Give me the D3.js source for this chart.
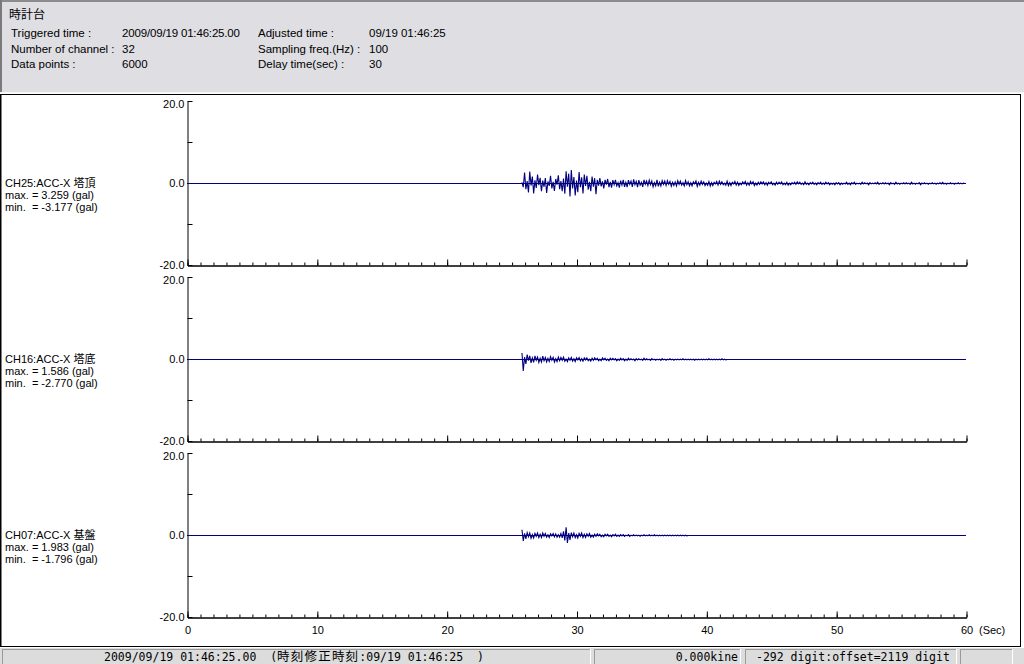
<!DOCTYPE html>
<html><head><meta charset="utf-8">
<script src="https://cdn.jsdelivr.net/npm/d3@7"></script>
<style>
body{margin:0;background:#fff;}
svg{display:block;}
text{white-space:pre;}
</style></head>
<body><svg id="c" width="1024" height="664"></svg>
<script>
// ---------- data ----------
const title = "時計台";
const headerLeftLabels = ["Triggered time :", "Number of channel :", "Data points :"];
const headerLeftValues = ["2009/09/19 01:46:25.00", "32", "6000"];
const headerRightLabels = ["Adjusted time :", "Sampling freq.(Hz) :", "Delay time(sec) :"];
const headerRightValues = ["09/19 01:46:25", "100", "30"];

const channelNames = ["CH25:ACC-X 塔頂", "CH16:ACC-X 塔底", "CH07:ACC-X 基盤"];
const maxLabels = ["max. = 3.259 (gal)", "max. = 1.586 (gal)", "max. = 1.983 (gal)"];
const minLabels = ["min.  = -3.177 (gal)", "min.  = -2.770 (gal)", "min.  = -1.796 (gal)"];

const yTicks = [20, 10, 0, -10, -20];
const yTickLabels = {"20": "20.0", "0": "0.0", "-20": "-20.0"};
const xMajorTicks = [0, 10, 20, 30, 40, 50, 60];
const xMinorTicks = d3.range(0, 61, 1);
const xUnit = "(Sec)";

const statusDate = "2009/09/19 01:46:25.00  (";
const statusCJK = "時刻修正時刻";
const statusTail = ":09/19 01:46:25  )";
const statusKine = "0.000kine";
const statusDigit = "-292 digit:offset=2119 digit";

// waveform samples (gal), every 0.1 s starting at the given time
const sampleStep = 0.1;
const startTimes = [25.8, 25.8, 25.8];
const ch25 = [
 0.3,-0.9,2.7,-1.4,0.6,-2.2,2.9,-0.5,1.7,-2.4,
 0.8,-1.1,2.2,-0.4,1.4,-1.9,0.7,-0.8,1.3,-2.3,
 0.5,-0.6,1.9,-1.2,0.4,-1.8,1.1,-0.3,2.0,-1.4,
 0.6,-1.9,1.2,-2.5,3.0,-0.8,2.4,-3.177,3.259,-1.2,
 1.6,-2.9,0.7,-2.1,2.8,-0.9,1.5,-2.4,2.2,-0.6,
 1.9,-1.5,0.4,-1.9,1.7,-0.8,1.3,-2.6,0.9,-0.5,
 1.3,-0.7,0.5,-1.2,0.9,-0.3,1.1,-0.9,0.4,-1.0,
 0.8,-0.3,0.9,-0.6,0.2,-1.0,0.7,-0.4,0.9,-0.8,
 0.3,-0.9,0.8,-0.2,0.6,-0.8,1.0,-0.3,0.5,-0.9,
 0.8,-0.4,0.3,-0.8,0.9,-0.2,0.6,-0.5,0.8,-0.3,
 0.6,-0.8,0.2,-0.6,0.9,-0.7,0.3,-0.6,0.7,-0.2,
 0.6,-0.5,0.7,-0.2,0.5,-0.7,0.3,-0.5,0.4,-0.6,
 0.7,-0.2,0.6,-0.4,0.2,-0.6,0.7,-0.3,0.4,-0.6,
 0.2,-0.6,0.4,-0.1,0.6,-0.7,0.3,-0.4,0.6,-0.2,
 0.4,-0.5,0.1,-0.4,0.5,-0.6,0.2,-0.5,0.3,-0.1,
 0.5,-0.4,0.6,-0.2,0.4,-0.3,0.1,-0.4,0.6,-0.5,
 0.2,-0.5,0.3,-0.1,0.5,-0.4,0.3,-0.5,0.1,-0.3,
 0.4,-0.1,0.5,-0.4,0.2,-0.4,0.5,-0.1,0.4,-0.5,
 0.1,-0.4,0.3,-0.2,0.4,-0.1,0.4,-0.3,0.2,-0.4,
 0.3,-0.1,0.4,-0.3,0.1,-0.4,0.3,-0.2,0.3,-0.1,
 0.4,-0.3,0.1,-0.3,0.3,-0.4,0.1,-0.3,0.2,-0.1,
 0.3,-0.2,0.4,-0.1,0.3,-0.2,0.1,-0.3,0.4,-0.2,
 0.1,-0.3,0.2,-0.1,0.3,-0.2,0.1,-0.3,0.2,-0.1,
 0.3,-0.2,0.1,-0.2,0.3,-0.1,0.2,-0.3,0.1,-0.2,
 0.1,-0.3,0.2,-0.1,0.2,-0.3,0.1,-0.2,0.1,-0.1,
 0.3,-0.2,0.1,-0.3,0.2,-0.1,0.3,-0.2,0.1,-0.1,
 0.1,-0.2,0.3,-0.1,0.2,-0.1,0.1,-0.3,0.2,-0.1,
 0.1,-0.1,0.2,-0.1,0.3,-0.2,0.1,-0.1,0.2,-0.1,
 0.2,-0.1,0.1,-0.3,0.2,-0.1,0.1,-0.2,0.3,-0.1,
 0.1,-0.2,0.1,-0.1,0.2,-0.1,0.2,-0.1,0.1,-0.2,
 0.3,-0.1,0.1,-0.2,0.1,-0.1,0.2,-0.3,0.1,-0.1,
 0.2,-0.1,0.1,-0.2,0.1,-0.1,0.2,-0.1,0.1,-0.2,
 0.1,-0.1,0.2,-0.1,0.3,-0.1,0.1,-0.2,0.1,-0.1,
 0.2,-0.1,0.1,-0.2,0.1,-0.1,0.2,-0.1,0.1,-0.1,
 0.1,0
];
const ch16 = [
 1.586,-2.770,0.6,-1.1,1.2,-0.3,0.9,-0.8,0.4,-0.7,
 0.9,-0.2,0.6,-0.7,0.3,-0.6,0.8,-0.3,0.5,-0.6,
 0.3,-0.5,0.7,-0.2,0.5,-0.6,0.2,-0.5,0.6,-0.3,
 0.5,-0.2,0.6,-0.4,0.1,-0.5,0.4,-0.2,0.5,-0.4,
 0.2,-0.5,0.4,-0.1,0.5,-0.3,0.2,-0.4,0.4,-0.1,
 0.4,-0.3,0.1,-0.4,0.3,-0.2,0.4,-0.1,0.3,-0.3,
 0.1,-0.3,0.4,-0.1,0.3,-0.2,0.1,-0.3,0.3,-0.1,
 0.3,-0.1,0.2,-0.3,0.1,-0.2,0.3,-0.1,0.2,-0.3,
 0.1,-0.2,0.3,-0.1,0.2,-0.1,0.1,-0.3,0.2,-0.1,
 0.2,-0.1,0.1,-0.2,0.3,-0.1,0.2,-0.1,0.1,-0.2,
 0.2,-0.1,0.1,-0.2,0.1,-0.1,0.1,-0.2,0.2,-0.1,
 0.1,-0.2,0.1,-0.1,0.2,-0.1,0.1,-0.2,0.1,-0.1,
 0.1,-0.1,0.1,-0.1,0.2,-0.1,0.1,-0.1,0.1,-0.1,
 0.1,-0.1,0.1,-0.2,0.1,-0.1,0.1,-0.1,0.1,-0.1,
 0.1,-0.1,0.1,-0.1,0.2,-0.1,0.1,-0.1,0.1,-0.1,
 0.1,-0.1,0.1,-0.1,0.2,-0.1,0.1,-0.1,0
];
const ch07 = [
 1.4,-1.3,0.5,-0.8,0.7,-0.3,0.6,-0.7,0.2,-0.6,
 0.5,-0.2,0.6,-0.5,0.3,-0.5,0.6,-0.2,0.5,-0.4,
 0.2,-0.5,0.4,-0.1,0.5,-0.3,0.4,-0.4,0.2,-0.4,
 0.5,-0.6,1.0,-1.2,1.983,-1.796,0.6,-1.1,0.7,-0.3,
 0.6,-0.5,0.2,-0.6,0.5,-0.2,0.6,-0.5,0.3,-0.5,
 0.4,-0.2,0.5,-0.4,0.1,-0.4,0.3,-0.2,0.4,-0.1,
 0.3,-0.3,0.1,-0.3,0.3,-0.1,0.3,-0.2,0.1,-0.3,
 0.2,-0.1,0.3,-0.2,0.1,-0.2,0.2,-0.1,0.2,-0.2,
 0.1,-0.1,0.2,-0.2,0.1,-0.1,0.2,-0.1,0.1,-0.1,
 0.1,-0.2,0.1,-0.1,0.2,-0.1,0.1,-0.1,0.2,-0.1,
 0.1,-0.1,0.2,-0.1,0.1,-0.1,0.1,-0.1,0.1,-0.1,
 0.1,-0.1,0.1,-0.1,0.1,-0.1,0.1,-0.1,0.1,-0.1,
 0.1,-0.1,0.1,-0.1,0.1,-0.1,0.1,-0.1,0
];
const series = [ch25, ch16, ch07];

// ---------- drawing ----------
const svg = d3.select("#c");
const W = 1024, H = 664;
const latin = "'Liberation Sans', Arial, 'Noto Sans CJK JP', sans-serif";
const mono = "'DejaVu Sans Mono', 'Noto Sans CJK JP', monospace";
const navy = "#000080";

// header
svg.append("rect").attr("x",0).attr("y",0).attr("width",W).attr("height",93).attr("fill","#dedee3");
svg.append("line").attr("x1",0).attr("x2",W).attr("y1",1).attr("y2",1).attr("stroke","#8c8c8c").attr("stroke-width",2);
svg.append("line").attr("x1",1).attr("x2",1).attr("y1",0).attr("y2",92).attr("stroke","#7a7a7a").attr("stroke-width",2);
svg.append("line").attr("x1",0).attr("x2",W).attr("y1",92.5).attr("y2",92.5).attr("stroke","#f4f4f4").attr("stroke-width",1);

const hdr = svg.append("g").attr("font-family", latin).attr("font-size", 11.5).attr("fill", "#000");
hdr.append("text").attr("x", 9).attr("y", 15).attr("dy","0.35em")
  .attr("font-family","'Noto Sans CJK JP', sans-serif").attr("font-size",12).text(title);
const rowY = [33, 49, 64];
rowY.forEach((yy, i) => {
  hdr.append("text").attr("x",11).attr("y",yy).attr("dy","0.35em").text(headerLeftLabels[i]);
  hdr.append("text").attr("x",122).attr("y",yy).attr("dy","0.35em").attr("textLength", i === 0 ? 118 : null).text(headerLeftValues[i]);
  hdr.append("text").attr("x",258).attr("y",yy).attr("dy","0.35em").text(headerRightLabels[i]);
  hdr.append("text").attr("x",369).attr("y",yy).attr("dy","0.35em").text(headerRightValues[i]);
});

// plot frame
svg.append("rect").attr("x",0).attr("y",94).attr("width",1021).attr("height",553).attr("fill","#fff");
svg.append("rect").attr("x",0.5).attr("y",94.5).attr("width",1020).attr("height",552)
  .attr("fill","none").attr("stroke","#000").attr("stroke-width",1);
svg.append("line").attr("x1",0.5).attr("x2",0.5).attr("y1",94).attr("y2",647).attr("stroke","#000").attr("stroke-width",2);

const x = d3.scaleLinear().domain([0, 60]).range([187, 966]);
const panelTop = 101, panelH = 164, panelGap = 176;

series.forEach((vals, p) => {
  const top = panelTop + p * panelGap;
  const y = d3.scaleLinear().domain([-20, 20]).range([top + panelH, top]);
  const g = svg.append("g");

  // y axis
  const ya = d3.axisLeft(y).tickValues(yTicks).tickSize(-5).tickSizeOuter(0).tickPadding(3)
    .tickFormat(d => yTickLabels[String(d)] || "");
  const yg = g.append("g").attr("transform", "translate(187.5,0)").call(ya);
  yg.selectAll("text").attr("font-family", latin).attr("font-size", 11).attr("fill","#000");
  yg.selectAll("text").filter(d => d === 20).attr("dy", "0.55em");

  // x axis minor
  const xaMinor = d3.axisBottom(x).tickValues(xMinorTicks).tickSize(-3).tickSizeOuter(0).tickFormat("");
  g.append("g").attr("transform", `translate(0.5,${y(-20) + 0.5})`).call(xaMinor);
  // x axis major
  const xaMajor = d3.axisBottom(x).tickValues(xMajorTicks).tickSize(-6).tickSizeOuter(0).tickPadding(14)
    .tickFormat(p === series.length - 1 ? d3.format("d") : "");
  const xg = g.append("g").attr("transform", `translate(0.5,${y(-20) + 0.5})`).call(xaMajor);
  xg.selectAll("text").attr("font-family", latin).attr("font-size", 11).attr("fill","#000").attr("dy","0.35em").attr("y", 13);

  // zero line
  g.append("line").attr("x1", x(0)).attr("x2", x(60)).attr("y1", y(0) + 0.5).attr("y2", y(0) + 0.5)
    .attr("stroke", navy).attr("stroke-width", 1);

  // waveform
  const pts = vals.map((v, i) => [startTimes[p] + i * sampleStep, v]);
  g.append("path").datum(pts)
    .attr("d", d3.line().x(d => x(d[0])).y(d => y(d[1]) + 0.5))
    .attr("fill", "none").attr("stroke", navy).attr("stroke-width", 1.1);

  // channel labels
  const cy = y(0);
  const lab = g.append("g").attr("font-family", latin).attr("font-size", 11).attr("fill","#000");
  lab.append("text").attr("x",5).attr("y",cy).attr("dy","0.35em").text(channelNames[p]);
  lab.append("text").attr("x",5).attr("y",cy+12).attr("dy","0.35em").text(maxLabels[p]);
  lab.append("text").attr("x",5).attr("y",cy+24).attr("dy","0.35em").text(minLabels[p]);
});

// unit
svg.append("text").attr("x", 979).attr("y", 630).attr("dy","0.35em")
  .attr("font-family", latin).attr("font-size", 11).text(xUnit);

// status bar
svg.append("rect").attr("x",0).attr("y",648).attr("width",W).attr("height",16).attr("fill","#dcdcdc");
const boxes = [[2,591],[594,741],[745,957],[960,1013]];
boxes.forEach((b) => {
  const sb = svg.append("g");
  sb.append("line").attr("x1",b[0]).attr("x2",b[1]).attr("y1",649.5).attr("y2",649.5).attr("stroke","#9a9a9a");
  sb.append("line").attr("x1",b[0]+0.5).attr("x2",b[0]+0.5).attr("y1",649).attr("y2",664).attr("stroke","#9a9a9a");
  sb.append("line").attr("x1",b[1]-0.5).attr("x2",b[1]-0.5).attr("y1",649).attr("y2",664).attr("stroke","#ffffff");
});
const st = svg.append("g").attr("font-family", mono).attr("font-size", 11.5).attr("fill","#000");
const t0 = st.append("text").attr("x",104).attr("y",657).attr("dy","0.35em");
t0.append("tspan").text(statusDate);
t0.append("tspan").attr("font-family","'Noto Sans CJK JP', sans-serif").attr("font-size",12.5).attr("letter-spacing",1.2).text(statusCJK);
t0.append("tspan").text(statusTail);
st.append("text").attr("x",boxes[1][1]-3).attr("y",657).attr("dy","0.35em").attr("text-anchor","end").text(statusKine);
st.append("text").attr("x",boxes[2][0]+11).attr("y",657).attr("dy","0.35em").text(statusDigit);
</script></body></html>
